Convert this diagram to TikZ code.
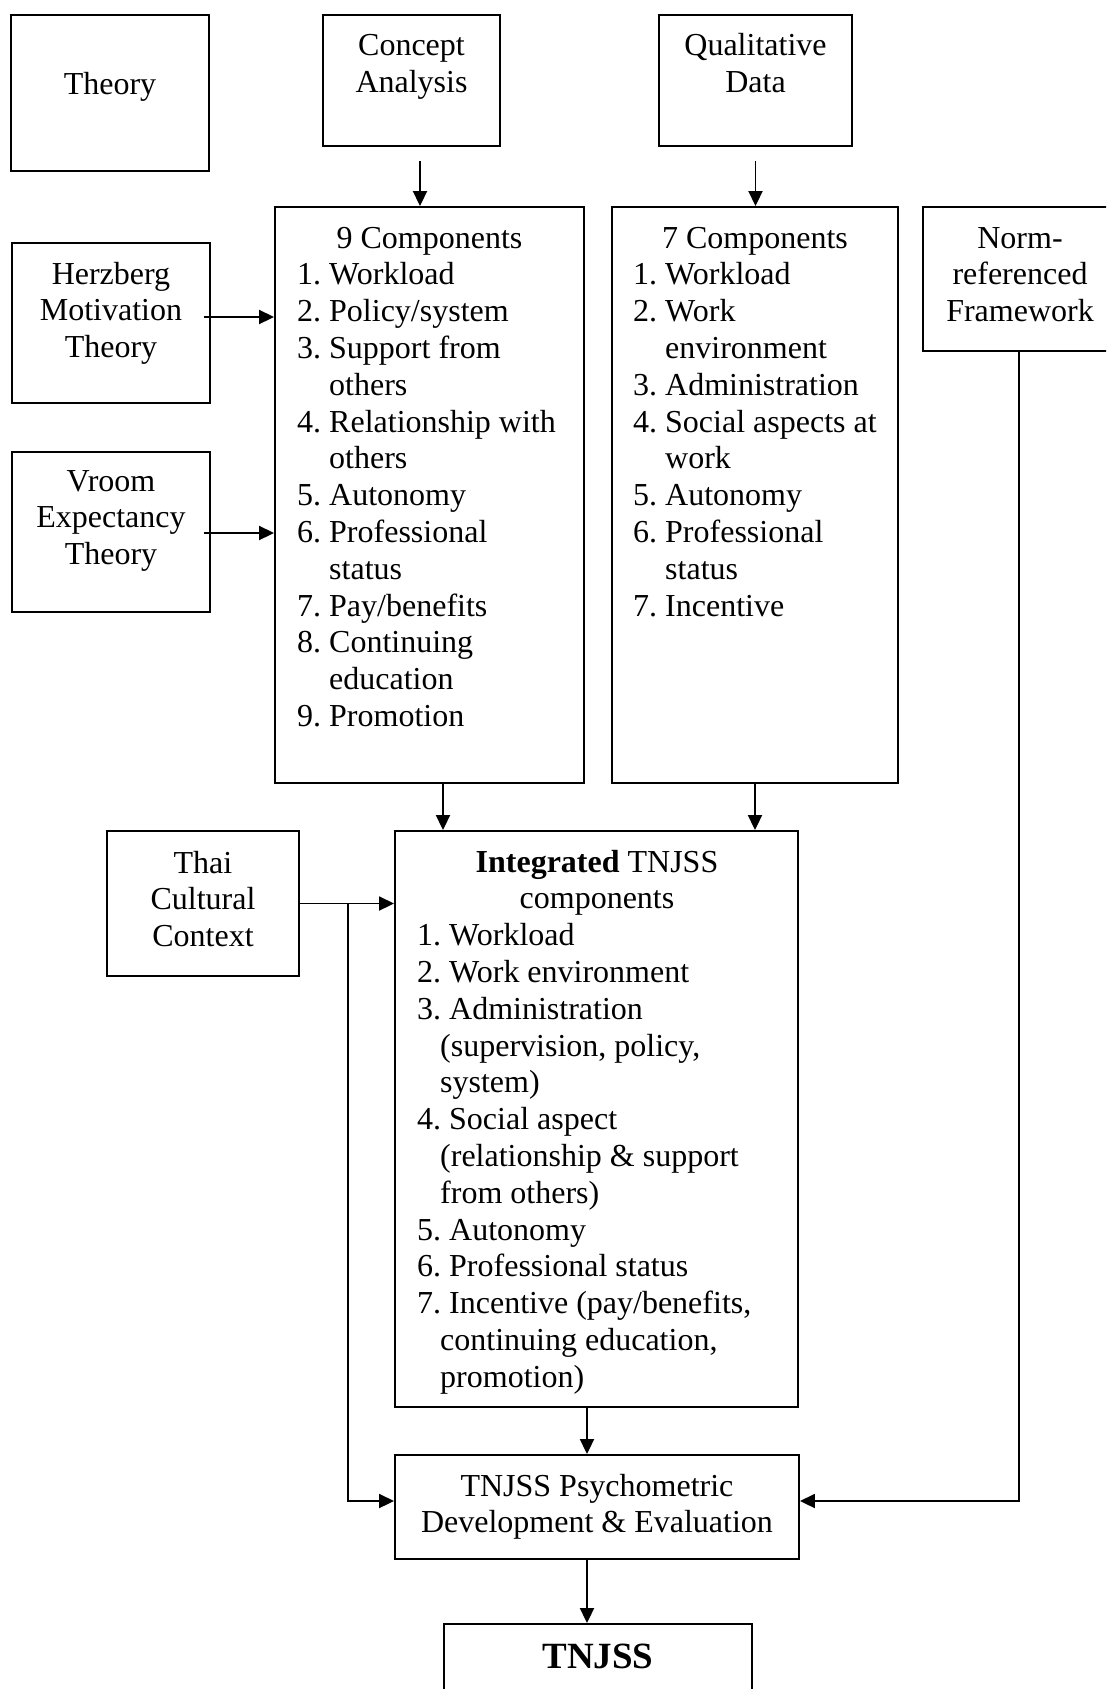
\documentclass[tikz,border=0pt]{standalone}
\usepackage{fontspec}
\setmainfont{Liberation Serif}
\usetikzlibrary{arrows.meta}
\frenchspacing

% centred and left-aligned text blocks whose reference point is the first baseline
\newcommand{\ctext}[1]{\parbox[t]{420pt}{\centering #1}}
\newcommand{\ltext}[1]{\parbox[t]{420pt}{\raggedright #1}}
\newcommand{\ind}{\hspace*{32pt}}
\newcommand{\sind}{\hspace*{23pt}}

\begin{document}
\begin{tikzpicture}[x=1pt, y=-1pt,
  box/.style={draw, line width=1.9pt, inner sep=0pt},
  arr/.style={line width=1.9pt, -{Triangle[length=15pt,width=14pt]}},
  lbl/.style={inner sep=0pt, font=\fontsize{32}{36.8}\selectfont},
]
\useasboundingbox (0,0) rectangle (1106,1689);
\clip (0,0) rectangle (1106,1689);

% ---- boxes ----
\node[box, minimum width=198pt, minimum height=156pt] (theory)  at (110,93)    {};
\node[box, minimum width=177pt, minimum height=131pt] (concept) at (411.5,80.5) {};
\node[box, minimum width=193pt, minimum height=131pt] (qual)    at (755.5,80.5) {};
\node[box, minimum width=198pt, minimum height=160pt] (her)     at (111,323)   {};
\node[box, minimum width=198pt, minimum height=160pt] (vroom)   at (111,532)   {};
\node[box, minimum width=309pt, minimum height=576pt] (nine)    at (429.5,495) {};
\node[box, minimum width=286pt, minimum height=576pt] (seven)   at (755,495)   {};
\node[box, minimum width=192pt, minimum height=144pt] (norm)    at (1019,279)  {};
\node[box, minimum width=192pt, minimum height=145pt] (thai)    at (203,903.5) {};
\node[box, minimum width=403pt, minimum height=576pt] (integ)   at (596.5,1119) {};
\node[box, minimum width=404pt, minimum height=104pt] (psych)   at (597,1507)  {};
\node[box, minimum width=308pt, minimum height=96pt]  (tnjss)   at (598,1672)  {};

% ---- texts ----
\node[lbl, anchor=base] (t-theory)  at (110,94)    {\ctext{Theory}};
\node[lbl, anchor=base] (t-concept) at (411.5,55.5) {\ctext{Concept\\Analysis}};
\node[lbl, anchor=base] (t-qual)    at (755.5,55.5) {\ctext{Qualitative\\Data}};
\node[lbl, anchor=base] (t-her)     at (111,284)   {\ctext{Herzberg\\Motivation\\Theory}};
\node[lbl, anchor=base] (t-vroom)   at (111,491)   {\ctext{Vroom\\Expectancy\\Theory}};
\node[lbl, anchor=base] (t-norm)    at (1020,248)  {\ctext{Norm-\\referenced\\Framework}};
\node[lbl, anchor=base] (t-thai)    at (203,873)   {\ctext{Thai\\Cultural\\Context}};
\node[lbl, anchor=base] (t-psych)   at (597,1496)  {\ctext{TNJSS Psychometric\\Development \& Evaluation}};
\node[inner sep=0pt, anchor=base, font=\fontsize{37}{42}\selectfont\bfseries] (t-tnjss) at (598,1668) {TNJSS};

\node[lbl, anchor=base] (h-nine) at (429.5,248) {9 Components};
\node[lbl, anchor=base west] (l-nine) at (297,284.8) {\ltext{%
1. Workload\\
2. Policy/system\\
3. Support from\\
\ind others\\
4. Relationship with\\
\ind others\\
5. Autonomy\\
6. Professional\\
\ind status\\
7. Pay/benefits\\
8. Continuing\\
\ind education\\
9. Promotion}};

\node[lbl, anchor=base] (h-seven) at (755,248) {7 Components};
\node[lbl, anchor=base west] (l-seven) at (633,284.8) {\ltext{%
1. Workload\\
2. Work\\
\ind environment\\
3. Administration\\
4. Social aspects at\\
\ind work\\
5. Autonomy\\
6. Professional\\
\ind status\\
7. Incentive}};

\node[lbl, anchor=base] (h-integ) at (597,872) {\ctext{\textbf{Integrated} TNJSS\\components}};
\node[lbl, anchor=base west] (l-integ) at (417,945.6) {\ltext{%
1. Workload\\
2. Work environment\\
3. Administration\\
\sind (supervision, policy,\\
\sind system)\\
4. Social aspect\\
\sind (relationship \& support\\
\sind from others)\\
5. Autonomy\\
6. Professional status\\
7. Incentive (pay/benefits,\\
\sind continuing education,\\
\sind promotion)}};

% ---- connectors ----
\coordinate (c1) at ([xshift=8.5pt,yshift=-14pt]concept.south);
\draw[arr] (c1) -- (c1 |- nine.north);
\coordinate (q1) at ([yshift=-14pt]qual.south);
\draw[arr] (q1) -- (q1 |- seven.north);
\coordinate (h1) at ([xshift=-7pt,yshift=6pt]her.east);
\draw[arr] (h1) -- (h1 -| nine.west);
\coordinate (v1) at ([xshift=-7pt,yshift=-1pt]vroom.east);
\draw[arr] (v1) -- (v1 -| nine.west);
\coordinate (n1) at ([xshift=13.5pt]nine.south);
\draw[arr] (n1) -- (n1 |- integ.north);
\draw[arr] (seven.south) -- (seven.south |- integ.north);
\draw[arr] (thai.east) -- (thai.east -| integ.west);
\coordinate (tb) at ([xshift=48pt]thai.east);
\coordinate (pw) at ([yshift=6pt]psych.west);
\draw[arr] (tb) |- (pw);
\coordinate (pe) at ([yshift=6pt]psych.east);
\draw[arr] (norm.south) |- (pe);
\coordinate (i1) at ([xshift=-9.5pt]integ.south);
\draw[arr] (i1) -- (i1 |- psych.north);
\coordinate (p0) at (i1 |- psych.south);
\draw[arr] (p0) -- (p0 |- tnjss.north);
\end{tikzpicture}
\end{document}
